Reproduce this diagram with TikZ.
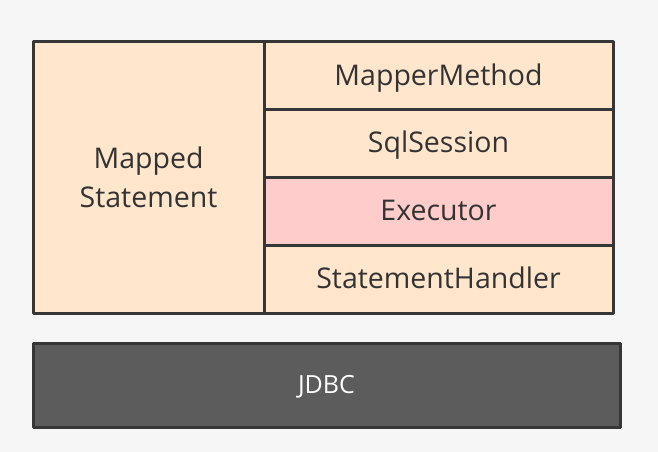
\documentclass[tikz,border=0pt]{standalone}
\usepackage{fontspec}
\setmainfont{Open Sans}
\definecolor{bgc}{HTML}{F6F6F6}
\definecolor{peach}{HTML}{FFE6CC}
\definecolor{pinkc}{HTML}{FFCCCC}
\definecolor{darkc}{HTML}{5C5C5C}
\definecolor{linec}{HTML}{363636}
\definecolor{txtc}{HTML}{333333}
\begin{document}
\begin{tikzpicture}[x=1pt,y=-1pt,
  cellbase/.style={draw=linec, line width=3pt, line join=round, fill=peach, inner sep=0pt, outer sep=0pt,
    text=txtc, font=\fontsize{28.5}{39}\selectfont},
  rowcell/.style={cellbase, minimum width=349pt, minimum height=67.75pt, text height=18.5pt, text depth=0pt},
  darkcell/.style={draw=linec, line width=3pt, line join=round, fill=darkc, inner sep=0pt, outer sep=0pt,
    text=white, font=\fontsize{25}{30}\selectfont, text height=17.9pt, text depth=0pt}]
\fill[bgc] (0,0) rectangle (658,452);
\useasboundingbox (0,0) rectangle (658,452);
\node[cellbase, align=center, minimum width=231pt, minimum height=271pt] (ms) at (148.5,177.5) {Mapped\\Statement};
\node[rowcell] (mm) at (438.5,75.875) {MapperMethod};
\node[rowcell] (ss) at (438.5,143.625) {SqlSession};
\node[rowcell, fill=pinkc] (ex) at (438.5,211.375) {Executor};
\node[rowcell] (sh) at (438.5,279.125) {StatementHandler};
\node[darkcell, minimum width=587pt, minimum height=84pt] (jdbc) at (326.5,385) {JDBC};
\end{tikzpicture}
\end{document}
